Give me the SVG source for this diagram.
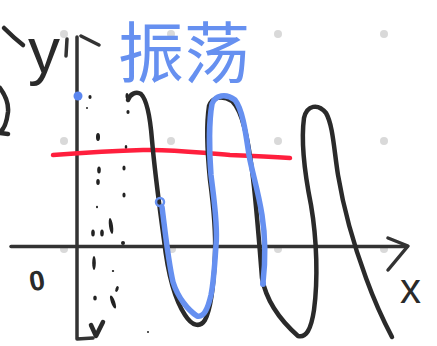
<svg xmlns="http://www.w3.org/2000/svg" width="437" height="346" viewBox="0 0 437 346">
<style>
.ink{fill:none;stroke:#2a2a2a;stroke-width:4.5;stroke-linecap:round;stroke-linejoin:round}
.axis{fill:none;stroke:#333;stroke-width:3.5;stroke-linecap:round;stroke-linejoin:round}
.blue{fill:none;stroke:#6690f0;stroke-width:5.5;stroke-linecap:round;stroke-linejoin:round}
.red{fill:none;stroke:#ff1f3d;stroke-width:4.5;stroke-linecap:round;stroke-linejoin:round}
.grid{fill:#d9d9d9}
.dash{fill:#222}
.hand{font-family:"Liberation Sans","DejaVu Sans",sans-serif;fill:#2a2a2a}
</style>
<rect width="437" height="346" fill="#fff"/>
<g id="grid">
<circle class="grid" cx="64" cy="34" r="4"/><circle class="grid" cx="171" cy="34" r="4"/><circle class="grid" cx="278" cy="34" r="4"/><circle class="grid" cx="384" cy="34" r="4"/>
<circle class="grid" cx="64" cy="141" r="4"/><circle class="grid" cx="171" cy="141" r="4"/><circle class="grid" cx="278" cy="141" r="4"/><circle class="grid" cx="384" cy="141" r="4"/>
<circle class="grid" cx="64" cy="249" r="4"/><circle class="grid" cx="172" cy="249" r="4"/><circle class="grid" cx="278" cy="249" r="4"/><circle class="grid" cx="384" cy="249" r="4"/>
</g>
<g id="title">
<text x="118" y="77" font-family="'Noto Sans CJK SC','Noto Sans CJK JP',sans-serif" font-size="66" fill="#6690f0">振荡</text>
</g>
<g id="axes">
<path class="axis" d="M11 246.5 L407 246.5"/>
<path class="axis" d="M388 238 L408 246 L388 270"/>
<path class="axis" d="M77 37 L77 339 L93 338"/>
<path class="axis" d="M67 39 L66 56"/>
<path class="axis" d="M81 36 L99 45"/>
<path class="ink" d="M91 325 L96 336 L103 322"/>
</g>
<g id="labels">
<path class="ink" d="M4 28 Q14 38 23 45"/>
<text class="hand" x="28" y="73" font-size="64">y</text>
<path class="ink" d="M0 88 Q9 100 8 112 Q6 128 0 132 M0 133 L8 134"/>
<text class="hand" x="29" y="290" font-size="28" font-weight="bold" transform="rotate(-10 39 280)">0</text>
<text class="hand" x="400" y="303" font-size="42">x</text>
</g>
<g id="dots">
<ellipse class="dash" cx="90" cy="97" rx="1.6" ry="2"/>
<ellipse class="dash" cx="87" cy="108" rx="1" ry="1"/>
<ellipse class="dash" cx="127" cy="96" rx="1.5" ry="3"/>
<ellipse class="dash" cx="128" cy="112" rx="1.6" ry="2"/>
<ellipse class="dash" cx="98" cy="137" rx="2" ry="4"/>
<ellipse class="dash" cx="126" cy="147" rx="1.3" ry="2"/>
<ellipse class="dash" cx="99" cy="170" rx="1.8" ry="3.5"/>
<ellipse class="dash" cx="98" cy="182" rx="1.8" ry="3"/>
<ellipse class="dash" cx="124" cy="168" rx="1.6" ry="2.5"/>
<ellipse class="dash" cx="124" cy="195" rx="1.6" ry="2.5"/>
<ellipse class="dash" cx="97" cy="207" rx="1" ry="1.2"/>
<ellipse class="dash" cx="93" cy="233" rx="1.8" ry="3.5"/>
<ellipse class="dash" cx="102" cy="233" rx="1.8" ry="3.5"/>
<ellipse class="dash" cx="111" cy="226" rx="2" ry="8" transform="rotate(-8 111 226)"/>
<ellipse class="dash" cx="123" cy="243" rx="2" ry="2"/>
<ellipse class="dash" cx="94" cy="263" rx="1.8" ry="7"/>
<ellipse class="dash" cx="113" cy="271" rx="1.2" ry="1"/>
<ellipse class="dash" cx="95" cy="298" rx="1.8" ry="2.5"/>
<ellipse class="dash" cx="117" cy="289" rx="1.5" ry="3" transform="rotate(20 117 289)"/>
<ellipse class="dash" cx="113" cy="302" rx="2" ry="7" transform="rotate(-20 113 302)"/>
<ellipse class="dash" cx="148" cy="332" rx="1" ry="1"/>
</g>
<g id="red-line">
<path class="red" d="M53 155 C80 153 110 151 143 150 C175 149 200 153 230 155 C255 156 275 157 290 158"/>
</g>
<g id="black-wave">
<path class="ink" d="M128 100 C130 94 136 91 141 94 C147 100 150 115 152 140 C155 175 160 210 164 240 C168 275 175 300 185 315 C192 326 200 328 205 320 C212 307 214 280 215 255 C216 230 214 210 210 180 C207 150 206 125 209 106 C212 97 222 95 232 101 C243 112 248 140 252 170 C256 200 259 240 262 278 C266 300 280 320 298 336 C306 338 311 330 314 310 C318 280 317 240 311 205 C305 175 301 140 304 118 C307 105 318 103 326 113 C333 125 334 150 338 175 C343 205 352 240 366 278 C374 300 383 320 392 337"/>
</g>
<g id="blue-wave">
<circle cx="160" cy="202" r="4" fill="none" stroke="#6690f0" stroke-width="2.5"/>
<path class="blue" d="M162 207 C165 230 168 260 173 282 C178 298 188 310 197 316 C204 318 208 308 211 295 C214 280 215 260 216 245 C218 225 214 200 211 175 C209 150 209 120 212 104 C215 95 226 93 235 100 C243 110 246 135 249 155 C252 172 258 190 262 215 C266 240 265 265 263 283"/>
<circle cx="78" cy="96" r="4.5" fill="#5b86f0"/>
<circle cx="263" cy="284" r="3" fill="#6690f0"/>
</g>
</svg>
